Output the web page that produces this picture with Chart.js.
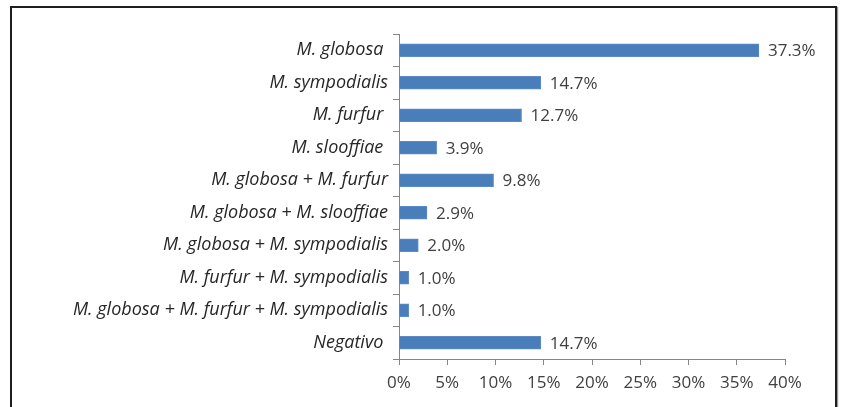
<!DOCTYPE html>
<html>
<head>
<meta charset="utf-8">
<script src="https://cdn.jsdelivr.net/npm/chart.js@4"></script>
<style>
    html, body { margin: 0; padding: 0; background: #fff; overflow: hidden; }
    #wrap { position: relative; width: 844px; height: 407px; }
    #frame {
        position: absolute; left: 10px; top: 6px; width: 827px; height: 420px;
        border: 2px solid #1e1e1e; box-sizing: border-box;
        box-shadow: 1px 1px 1px #999;
    }
    canvas { position: absolute; left: 0; top: 0; }
</style>
</head>
<body>
<div id="wrap">
    <div id="frame"></div>
    <canvas id="speciesChart" width="844" height="407"></canvas>
</div>
<script>
const categories = [
    'M. globosa ',
    'M. sympodialis',
    'M. furfur ',
    'M. slooffiae ',
    'M. globosa + M. furfur',
    'M. globosa + M. slooffiae',
    'M. globosa + M. sympodialis',
    'M. furfur + M. sympodialis',
    'M. globosa + M. furfur + M. sympodialis',
    'Negativo '
];
const percentages = [37.3, 14.7, 12.7, 3.9, 9.8, 2.9, 2.0, 1.0, 1.0, 14.7];
const tickValues = [0, 5, 10, 15, 20, 25, 30, 35, 40];

// etiquetas de valor a la derecha de cada barra
const valueLabels = {
    id: 'valueLabels',
    afterDatasetsDraw(chart) {
        const ctx = chart.ctx;
        const meta = chart.getDatasetMeta(0);
        ctx.save();
        ctx.font = '17px "Open Sans"';
        ctx.fillStyle = '#404040';
        ctx.textAlign = 'left';
        ctx.textBaseline = 'middle';
        meta.data.forEach((bar, i) => {
            ctx.fillText(percentages[i].toFixed(1) + '%', bar.x + 9, bar.y + 1);
        });
        ctx.restore();
    }
};

const ctx = document.getElementById('speciesChart').getContext('2d');
new Chart(ctx, {
    type: 'bar',
    data: {
        labels: categories,
        datasets: [{
            data: percentages,
            backgroundColor: '#4a7ebb',
            borderColor: '#5b8cc6',
            borderWidth: 1,
            barThickness: 13
        }]
    },
    options: {
        indexAxis: 'y',
        responsive: false,
        animation: false,
        layout: {
            padding: { top: 34, right: 59, bottom: 0, left: 0 }
        },
        plugins: {
            legend: { display: false },
            tooltip: { enabled: false }
        },
        scales: {
            x: {
                min: 0,
                max: 40,
                afterBuildTicks: (scale) => {
                    scale.ticks = tickValues.map(v => ({ value: v }));
                },
                afterFit: (scale) => { scale.height = 48; },
                grid: {
                    drawOnChartArea: false,
                    drawTicks: true,
                    tickLength: 6,
                    color: '#868686'
                },
                border: { color: '#868686', width: 1 },
                ticks: {
                    padding: 8,
                    color: '#404040',
                    font: { family: 'Open Sans', size: 17 },
                    maxRotation: 0,
                    callback: (v) => v + '%'
                }
            },
            y: {
                afterFit: (scale) => { scale.width = 399; },
                grid: {
                    offset: true,
                    drawOnChartArea: false,
                    tickLength: 6,
                    color: '#868686'
                },
                border: { color: '#868686', width: 1 },
                ticks: {
                    padding: 5,
                    color: '#262626',
                    font: { family: 'Open Sans', size: 18, style: 'italic' }
                }
            }
        }
    },
    plugins: [valueLabels]
});
</script>
</body>
</html>
